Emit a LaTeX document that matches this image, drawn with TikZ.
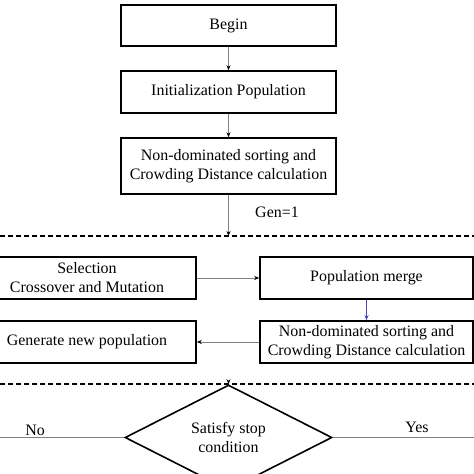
\documentclass[tikz,border=0pt]{standalone}
\usepackage{fontspec}
\setmainfont{Liberation Serif}
\usetikzlibrary{shapes.geometric,arrows.meta,positioning}

\begin{document}
\begin{tikzpicture}[
    x=1bp, y=-1bp,
    every node/.style={font=\fontsize{16}{19}\selectfont},
    stepbox/.style={rectangle, draw, line width=1.6pt, align=center, inner sep=0pt, minimum height=42bp},
    decision/.style={diamond, draw, line width=1.6pt, align=center, inner sep=0pt, minimum width=207bp, minimum height=59bp},
    flow/.style={draw=gray, line width=0.6pt, -{Stealth[black, length=5pt, width=4pt]}},
    divider/.style={line width=1.4pt, dash pattern=on 5bp off 3bp}
]
\useasboundingbox (0,0) rectangle (474,474);

% upper part
\node[stepbox, minimum width=215bp, minimum height=41bp] (begin) at (228.5,25.5) {Begin};
\node[stepbox, minimum width=215bp] (init) at (228.5,92) {Initialization Population};
\node[stepbox, minimum width=215bp, minimum height=56bp] (sort) at (228.5,166) {Non-dominated sorting and\\Crowding Distance calculation};
\node (gen) at (277,212) {Gen=1};

\coordinate (dashAl) at (0,236);
\coordinate (dashAr) at (474,236);
\draw[divider] (dashAl) -- (dashAr);

\draw[flow] (begin) -- (init);
\draw[flow] (init) -- (sort);
\draw[flow] (sort) -- (sort |- dashAl);

% loop
\node[stepbox, minimum width=218bp] (select) at (87,278) {Selection\\Crossover and Mutation};
\node[stepbox, minimum width=213bp] (merge) at (366.5,278) {Population merge};
\node[stepbox, minimum width=218bp] (newpop) at (87,342) {Generate new population};
\node[stepbox, minimum width=213bp] (sort2) at (366.5,342) {Non-dominated sorting and\\Crowding Distance calculation};

\draw[flow] (select) -- (merge);
\draw[draw=blue!45!gray, line width=0.6pt, -{Stealth[blue!45!gray, length=5pt, width=4pt]}] (merge) -- (sort2);
\draw[flow] (sort2) -- (newpop);

\coordinate (dashBl) at (0,384);
\coordinate (dashBr) at (474,384);
\draw[divider] (dashBl) -- (dashBr);

% stop test
\node[decision] (stop) at (228.5,437.5) {Satisfy stop\\condition};
\draw[flow] (stop |- dashBl) -- (stop);

\coordinate (noend) at (0,437.5);
\coordinate (yesend) at (474,437.5);
\draw[draw=gray, line width=0.6pt] (noend) -- (stop.west);
\draw[draw=gray, line width=0.6pt] (stop.east) -- (yesend);
\node (no) at (35,430) {No};
\node (yes) at (417,427) {Yes};
\end{tikzpicture}
\end{document}
